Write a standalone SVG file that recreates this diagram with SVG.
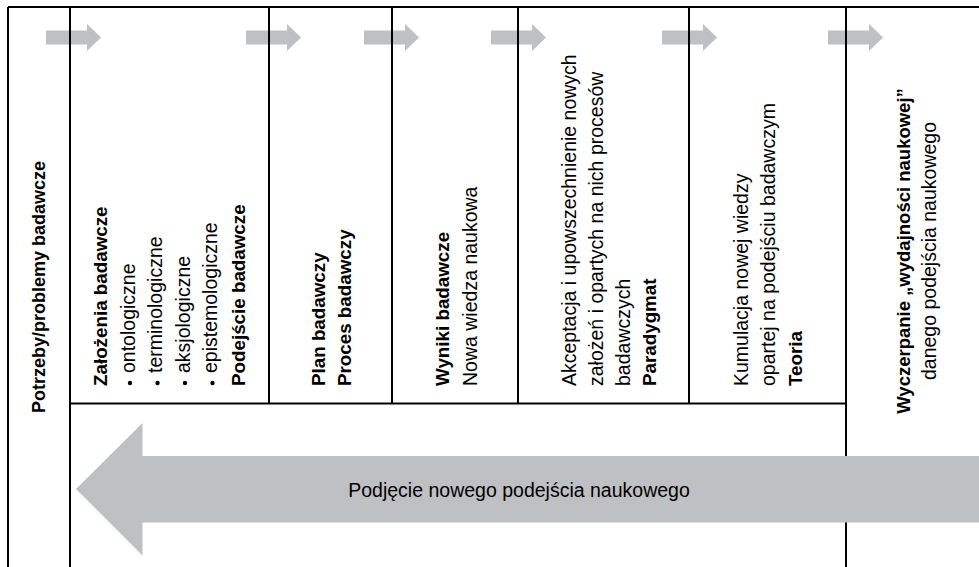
<svg xmlns="http://www.w3.org/2000/svg" width="979" height="567" viewBox="0 0 979 567">
  <style>
    .frame { stroke: #000; stroke-width: 2; fill: none; }
    .flow { fill: #bfc0c3; }
    text { font-family: "Liberation Sans", Arial, sans-serif; fill: #000; }
    .r { font-size: 19.5px; }
    .b { font-size: 18.8px; font-weight: bold; }
  </style>
  <defs>
    <!-- small block arrow pointing right, tip at origin -->
    <polygon id="step" points="-55,-7 -14,-7 -14,-13.5 0,0 -14,13.5 -14,7 -55,7"/>
  </defs>

  <rect width="979" height="567" fill="#fff"/>

  <!-- connectors: step arrows along the top -->
  <g id="connectors">
    <use href="#step" class="flow" x="101" y="37.5"/>
    <use href="#step" class="flow" x="301" y="37.5"/>
    <use href="#step" class="flow" x="419" y="37.5"/>
    <use href="#step" class="flow" x="546" y="37.5"/>
    <use href="#step" class="flow" x="717" y="37.5"/>
    <use href="#step" class="flow" x="883" y="37.5"/>
  </g>

  <!-- column grid -->
  <g id="frame" class="frame">
    <path d="M8,7 H979 M8,7 V567 M70,7 V567 M846,7 V567"/>
    <path d="M269,7 V403.5 M392,7 V403.5 M518,7 V403.5 M689,7 V403.5 M70,403.5 H846"/>
  </g>

  <!-- return arrow across the bottom -->
  <g id="return-arrow">
    <polygon class="flow" points="76,489 142.5,423 142.5,456 979,456 979,522.5 142.5,522.5 142.5,555.5"/>
    <text class="r" x="519" y="497" text-anchor="middle">Podjęcie nowego podejścia naukowego</text>
  </g>

  <g id="needs">
    <text class="b" style="font-size:18px" transform="translate(45,287) rotate(-90)" text-anchor="middle">Potrzeby/problemy badawcze</text>
  </g>

  <g id="assumptions">
    <text class="b" transform="translate(107,386) rotate(-90)">Założenia badawcze</text>
    <circle cx="130" cy="383" r="2.2"/>
    <circle cx="157.5" cy="383" r="2.2"/>
    <circle cx="185" cy="383" r="2.2"/>
    <circle cx="212.5" cy="383" r="2.2"/>
    <text class="r" transform="translate(135,373) rotate(-90)">ontologiczne</text>
    <text class="r" transform="translate(162,373) rotate(-90)">terminologiczne</text>
    <text class="r" transform="translate(189.5,373) rotate(-90)">aksjologiczne</text>
    <text class="r" transform="translate(217,373) rotate(-90)">epistemologiczne</text>
    <text class="b" transform="translate(244.5,386) rotate(-90)">Podejście badawcze</text>
  </g>

  <g id="plan">
    <text class="b" transform="translate(325,386) rotate(-90)">Plan badawczy</text>
    <text class="b" transform="translate(351,386) rotate(-90)">Proces badawczy</text>
  </g>

  <g id="results">
    <text class="b" transform="translate(449,386) rotate(-90)">Wyniki badawcze</text>
    <text class="r" transform="translate(477,386) rotate(-90)">Nowa wiedza naukowa</text>
  </g>

  <g id="paradigm">
    <text class="r" transform="translate(576,386) rotate(-90)">Akceptacja i upowszechnienie nowych</text>
    <text class="r" transform="translate(603,386) rotate(-90)">założeń i opartych na nich procesów</text>
    <text class="r" transform="translate(629.5,386) rotate(-90)">badawczych</text>
    <text class="b" transform="translate(656,386) rotate(-90)">Paradygmat</text>
  </g>

  <g id="theory">
    <text class="r" transform="translate(748,386) rotate(-90)">Kumulacja nowej wiedzy</text>
    <text class="r" transform="translate(775,386) rotate(-90)">opartej na podejściu badawczym</text>
    <text class="b" transform="translate(802,386) rotate(-90)">Teoria</text>
  </g>

  <g id="exhaustion">
    <text class="b" style="font-size:18.5px" transform="translate(910,251) rotate(-90)" text-anchor="middle">Wyczerpanie „wydajności naukowej”</text>
    <text class="r" transform="translate(936,251) rotate(-90)" text-anchor="middle">danego podejścia naukowego</text>
  </g>
</svg>
